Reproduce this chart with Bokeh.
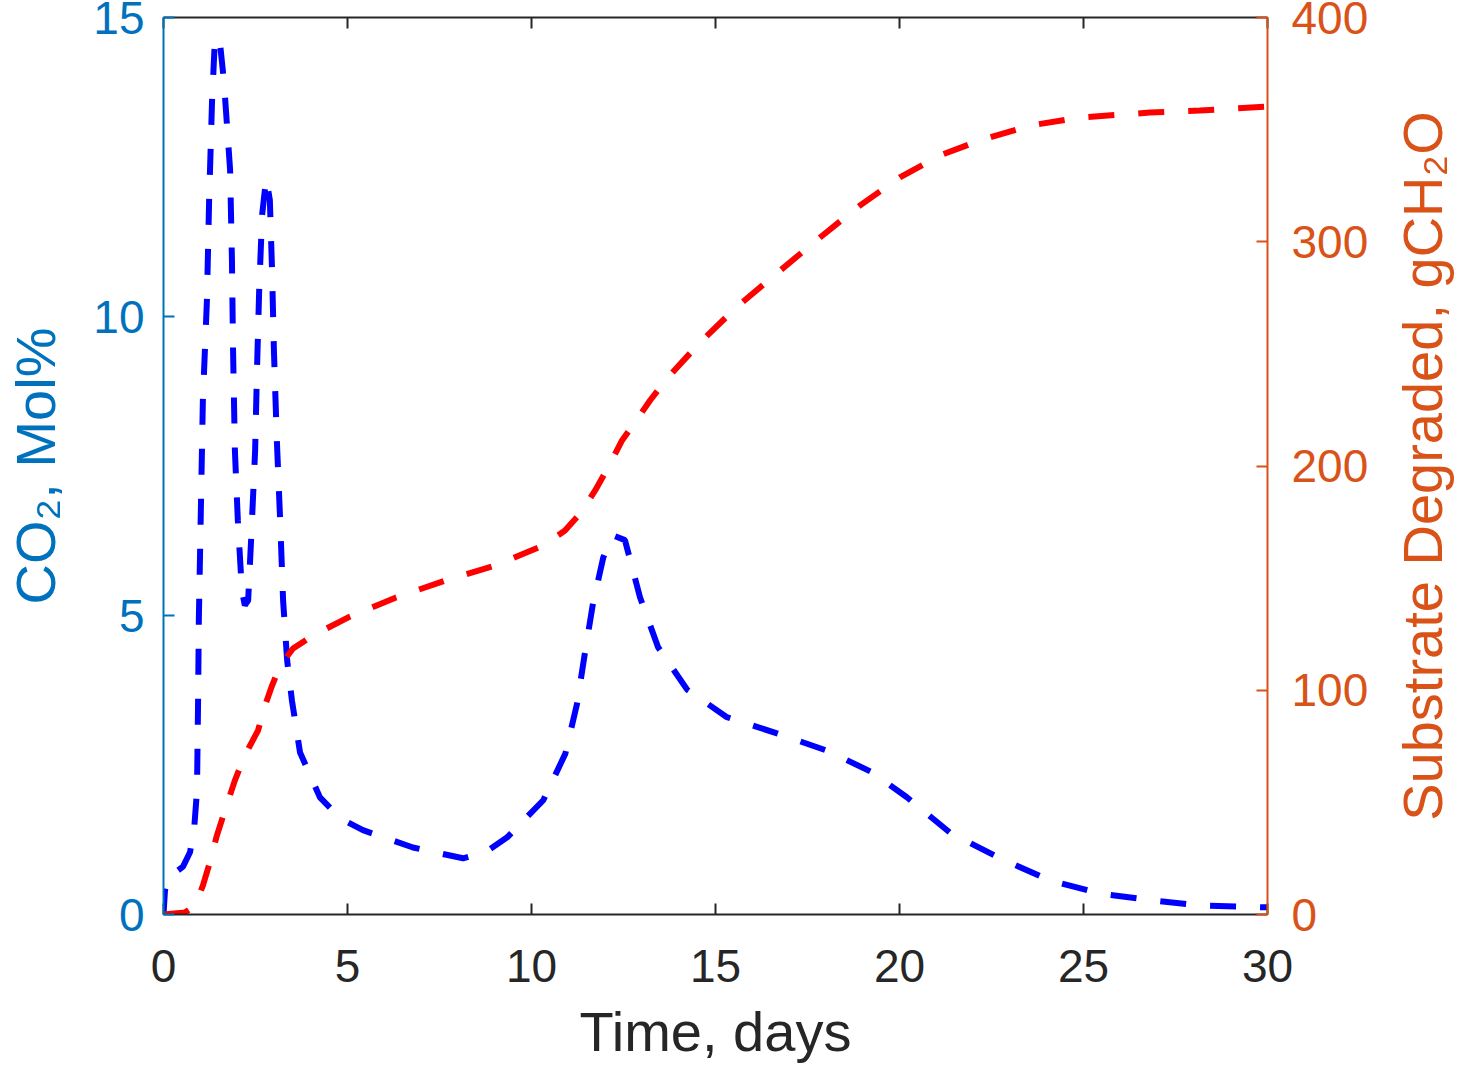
from bokeh.plotting import figure
from bokeh.layouts import row
from bokeh.models import Range1d, LinearAxis, FixedTicker, CustomJSTickFormatter
from bokeh.embed import file_html
from bokeh.resources import INLINE

# ---- data ----
co2_t = [0, 0.04, 0.12, 0.31, 0.53, 0.72, 0.83, 0.91, 0.94, 0.96,
         1.07, 1.18, 1.24, 1.32, 1.40, 1.54, 1.64, 1.81, 1.86, 1.89,
         1.94, 2.02, 2.13, 2.21, 2.30, 2.38, 2.49, 2.54, 2.60, 2.68,
         2.79, 2.89, 2.95, 3.00, 3.08, 3.17, 3.25, 3.36, 3.49, 3.71,
         4.25, 4.80, 5.42, 6.78, 8.14, 8.74, 9.34, 10.32, 10.92, 11.24,
         11.45, 11.67, 11.95, 12.21, 12.54, 12.95, 13.44, 14.23, 15.31, 16.67,
         18.03, 19.25, 20.20, 21.37, 22.73, 24.09, 25.45, 26.94, 28.16, 30.0]
co2_mol = [0, 0.40, 0.62, 0.70, 0.80, 1.04, 1.41, 2.07, 3.58, 4.92,
           8.60, 10.27, 11.95, 13.62, 14.67, 14.54, 13.95, 12.45, 10.94, 9.44,
           7.76, 6.59, 5.42, 5.17, 5.25, 6.26, 7.76, 9.10, 10.44, 11.70,
           12.31, 11.95, 10.77, 9.44, 7.93, 6.59, 5.25, 4.25, 3.58, 2.71,
           1.96, 1.61, 1.41, 1.12, 0.94, 1.04, 1.29, 1.91, 2.69, 3.53,
           4.37, 5.20, 5.97, 6.34, 6.26, 5.30, 4.47, 3.76, 3.30, 3.03,
           2.74, 2.38, 1.96, 1.37, 0.94, 0.57, 0.35, 0.23, 0.15, 0.12]

sub_t = [0, 0.58, 0.86, 1.07, 1.26, 1.45, 1.67, 1.94, 2.21, 2.57,
         2.76, 2.95, 3.17, 3.52, 4.06, 5.01, 6.32, 7.65, 9.01, 10.31,
         10.91, 11.35, 11.73, 12.08, 12.46, 12.81, 13.22, 13.66, 14.58, 15.59,
         16.76, 17.84, 18.93, 20.01, 21.10, 22.19, 23.55, 24.90, 26.80, 28.16,
         30.0]
sub_g = [0, 0.9, 4.0, 12.9, 23.2, 35.2, 46.4, 59.8, 70.9, 82.1,
         93.2, 102.1, 111.0, 118.6, 124.4, 132.4, 141.4, 148.9, 155.6, 164.5,
         171.2, 179.3, 189.1, 199.3, 211.4, 219.4, 229.2, 238.6, 255.1, 271.1,
         287.2, 301.9, 316.2, 328.7, 338.5, 345.2, 351.8, 355.4, 357.6, 358.5,
         360.3]

x_ticks = [0, 5, 10, 15, 20, 25, 30]
left_ticks = [0, 5, 10, 15]
right_ticks = [0, 100, 200, 300, 400]

x_label = "Time, days"
left_label = "CO\u2082, Mol%"
right_label = "Substrate Degraded, gCH\u2082O"

BLUE_AX = "#0072BD"
ORANGE_AX = "#D95319"
DARK = "#262626"
FONT = "Liberation Sans"

W, H = 1473, 1067
W1 = 1387                     # main figure width; the rest holds the right label
FL, FR, FT, FB = 163, 1267, 17, 914  # frame edges in canvas px

p = figure(width=W1, height=H, x_range=Range1d(0, 30), y_range=Range1d(0, 15),
           output_backend="svg", toolbar_location=None,
           x_axis_location=None, y_axis_location=None,
           min_border_left=FL, min_border_right=W1 - FR,
           min_border_top=FT, min_border_bottom=H - FB)
p.extra_y_ranges = {"right": Range1d(0, 400)}
p.outline_line_color = None
p.grid.visible = False
p.background_fill_color = "white"
p.border_fill_color = "white"


def style(ax, color, standoff, label=None, label_standoff=0):
    ax.axis_line_color = color
    ax.axis_line_width = 2
    ax.major_tick_line_color = color
    ax.major_tick_line_width = 2
    ax.major_tick_in = 11
    ax.major_tick_out = 0
    ax.minor_tick_line_color = None
    ax.major_label_text_font = FONT
    ax.major_label_text_font_size = "46px"
    ax.major_label_text_color = color
    ax.major_label_standoff = standoff
    if label is not None:
        ax.axis_label = label
        ax.axis_label_text_font = FONT
        ax.axis_label_text_font_size = "56px"
        ax.axis_label_text_font_style = "normal"
        ax.axis_label_text_color = color
        ax.axis_label_standoff = label_standoff


bottom = LinearAxis(ticker=FixedTicker(ticks=x_ticks))
style(bottom, DARK, 35, x_label, 15)
p.add_layout(bottom, "below")

top = LinearAxis(ticker=FixedTicker(ticks=x_ticks),
                 formatter=CustomJSTickFormatter(code="return ''"))
style(top, DARK, 0)
p.add_layout(top, "above")

left = LinearAxis(ticker=FixedTicker(ticks=left_ticks))
style(left, BLUE_AX, 19, left_label, 23)
p.add_layout(left, "left")

right = LinearAxis(y_range_name="right", ticker=FixedTicker(ticks=right_ticks))
style(right, ORANGE_AX, 24)
p.add_layout(right, "right")

p.line(co2_t, co2_mol, line_color="#0000FF", line_width=6, line_dash="26 24")
p.line(sub_t, sub_g, line_color="#FF0000", line_width=6, line_dash="26 24",
       y_range_name="right")

# narrow companion figure whose left-axis title reads bottom-to-top,
# serving as the right-hand axis title of the chart
p2 = figure(width=W - W1, height=H, x_range=Range1d(0, 1), y_range=Range1d(0, 1),
            output_backend="svg", toolbar_location=None,
            x_axis_location=None, y_axis_location=None,
            min_border_left=0, min_border_right=0,
            min_border_top=FT, min_border_bottom=H - FB)
p2.outline_line_color = None
p2.grid.visible = False
p2.background_fill_color = "white"
p2.border_fill_color = "white"
rlab = LinearAxis(ticker=FixedTicker(ticks=[]),
                  formatter=CustomJSTickFormatter(code="return ''"))
style(rlab, ORANGE_AX, 0, right_label, 0)
rlab.axis_line_color = None
rlab.major_tick_line_color = None
rlab.major_tick_in = 0
rlab.major_label_text_font_size = "0px"
p2.add_layout(rlab, "left")

open("out.html", "w").write(file_html(row(p, p2), INLINE))
